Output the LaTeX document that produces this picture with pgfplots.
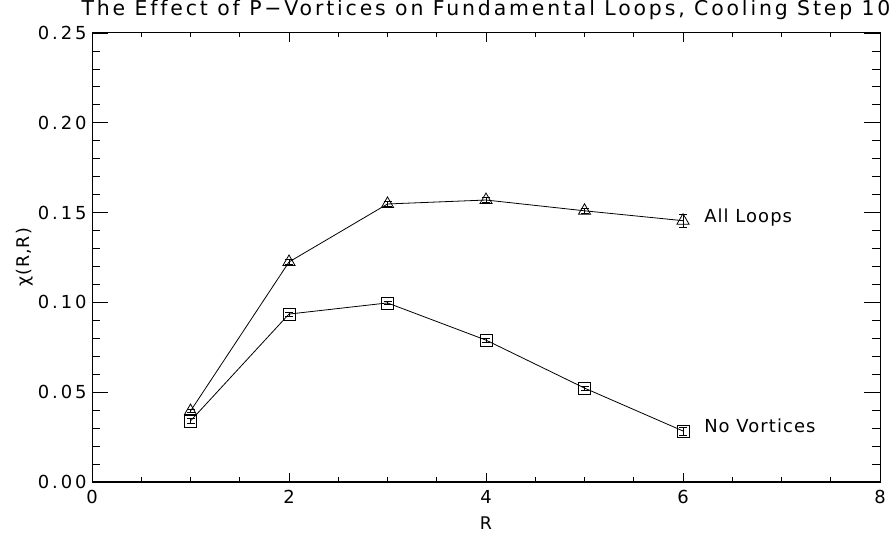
\documentclass[border=0pt]{standalone}
\usepackage{pgfplots}
\pgfplotsset{compat=1.18}
\usepackage{fontspec}
\setmainfont{DejaVu Sans}[LetterSpace=6, Ligatures=NoCommon]
\newfontfamily\titlefont{DejaVu Sans}[LetterSpace=14, Ligatures=NoCommon]
\newfontfamily\tickfont{DejaVu Sans}[LetterSpace=16]

\pgfplotsset{
  idlbox/.style={
    at={(92bp,51bp)}, anchor=south west,
    scale only axis,
    width=788bp, height=449bp,
    xmin=0, xmax=8, ymin=0, ymax=0.25,
    tick style={black, line width=0.8bp},
    axis line style={line width=1bp},
    /pgf/number format/assume math mode=true,
    ticklabel style={font=\tickfont\fontsize{18}{20}\selectfont},
    label style={font=\fontsize{17.5}{20}\selectfont},
    clip=false,
  }
}

\begin{document}
\begin{tikzpicture}
\useasboundingbox (0,0) rectangle (893bp,533bp);
% y ticks (IDL: longer ticks on the y axis)
\begin{axis}[idlbox,
  xtick=\empty,
  ytick={0,0.05,...,0.25}, minor y tick num=4,
  major tick length=16bp, minor tick length=8bp,
  y tick label style={/pgf/number format/fixed,
    /pgf/number format/fixed zerofill,
    /pgf/number format/precision=2, xshift=-2bp},
  ylabel={χ(R,R)},
  ylabel style={at={(axis description cs:-0.085,0.5)}, anchor=center},
]
\end{axis}
% x ticks, data and title
\begin{axis}[idlbox,
  ytick=\empty,
  xtick={0,2,4,6,8}, minor x tick num=3,
  major tick length=9bp, minor tick length=4.5bp,
  xticklabel style={yshift=-5bp},
  xlabel={R},
  xlabel style={at={(axis description cs:0.5,-0.091)}, anchor=center},
  title={The Effect of P−Vortices on Fundamental Loops, Cooling Step 10},
  title style={font=\titlefont\fontsize{20.5}{22}\selectfont,
    at={(axis description cs:0.5,1)}, anchor=base, yshift=12bp},
]
\addplot[black, line width=0.8bp, mark=triangle, mark size=7bp,
  mark options={solid, line width=0.8bp},
  error bars/.cd, y dir=both, y explicit,
  error bar style={line width=0.8bp},
  error mark options={rotate=90, mark size=4bp, line width=0.8bp}]
  coordinates {
  (1,0.0395) +- (0,0.0010)
  (2,0.1225) +- (0,0.0012)
  (3,0.1548) +- (0,0.0012)
  (4,0.1570) +- (0,0.0012)
  (5,0.1510) +- (0,0.0015)
  (6,0.1455) +- (0,0.0036)
};
\addplot[black, line width=0.8bp, mark=square, mark size=6bp,
  mark options={solid, line width=0.8bp},
  error bars/.cd, y dir=both, y explicit,
  error bar style={line width=0.8bp},
  error mark options={rotate=90, mark size=4bp, line width=0.8bp}]
  coordinates {
  (1,0.0340) +- (0,0.0012)
  (2,0.0935) +- (0,0.0012)
  (3,0.0997) +- (0,0.0010)
  (4,0.0790) +- (0,0.0010)
  (5,0.0523) +- (0,0.0012)
  (6,0.0284) +- (0,0.0022)
};
\node[anchor=west, font=\fontsize{18}{20}\selectfont] at (axis cs:6.18,0.1475) {All Loops};
\node[anchor=west, font=\fontsize{18}{20}\selectfont] at (axis cs:6.18,0.0315) {No Vortices};
\end{axis}
\end{tikzpicture}
\end{document}
